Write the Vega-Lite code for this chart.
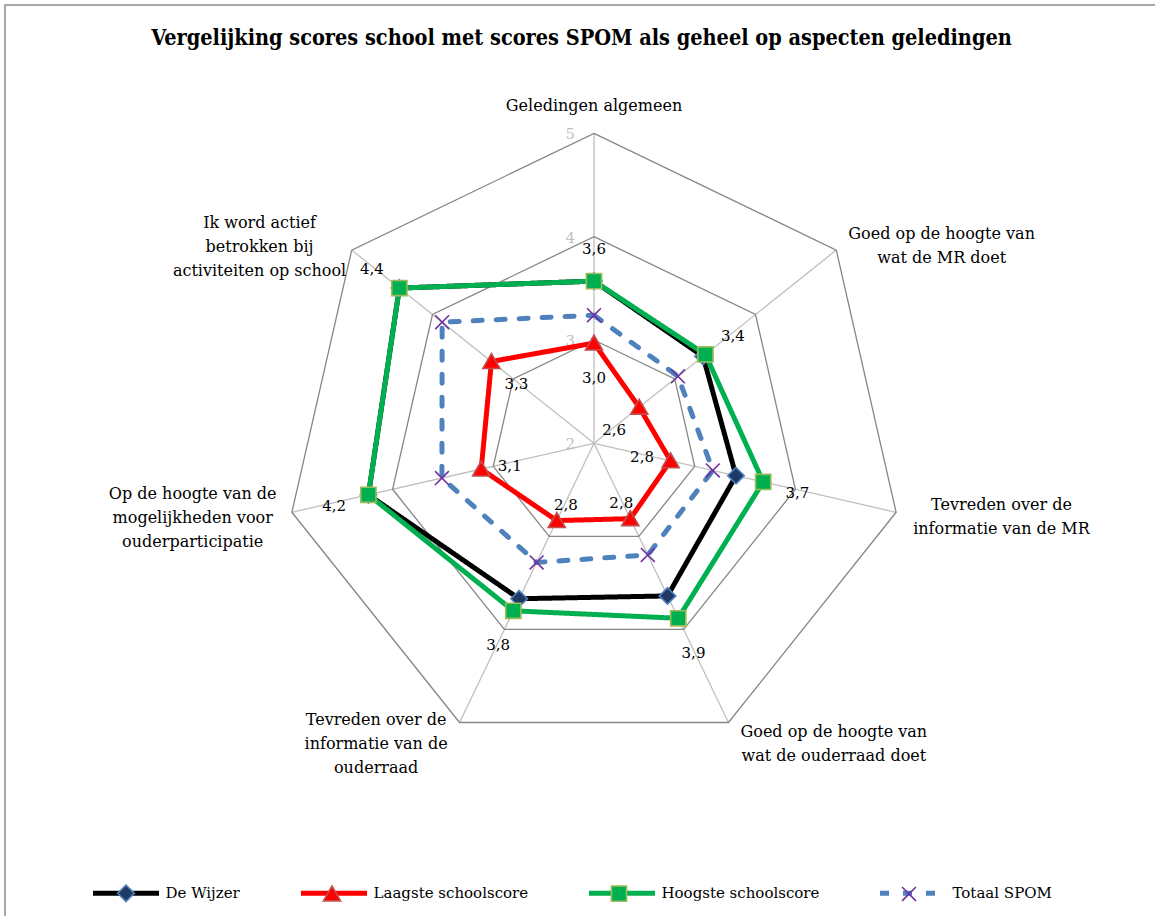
{
  "$schema": "https://vega.github.io/schema/vega-lite/v6.json",
  "width": 1153,
  "height": 914,
  "autosize": {"type": "none"},
  "padding": {"left": 5, "top": 5, "right": -3, "bottom": -3},
  "background": "white",
  "title": {
    "text": "Vergelijking scores school met scores SPOM als geheel op aspecten geledingen",
    "font": "DejaVu Serif Condensed",
    "fontSize": 21.5,
    "fontWeight": "bold",
    "color": "#000000",
    "anchor": "middle",
    "frame": "group",
    "baseline": "alphabetic",
    "offset": -61
  },
  "config": {
    "view": {"stroke": "#8C8C8C", "strokeWidth": 1.5},
    "font": "DejaVu Serif"
  },
  "resolve": {
    "scale": {"shape": "independent", "fill": "independent", "stroke": "independent"},
    "legend": {"shape": "independent", "fill": "independent", "stroke": "independent"}
  },
  "datasets": {
    "aspects": [
      {"aspect": "Geledingen algemeen", "label": "Geledingen algemeen"},
      {"aspect": "Goed op de hoogte van wat de MR doet", "label": "Goed op de hoogte van\nwat de MR doet"},
      {"aspect": "Tevreden over de informatie van de MR", "label": "Tevreden over de\ninformatie van de MR"},
      {"aspect": "Goed op de hoogte van wat de ouderraad doet", "label": "Goed op de hoogte van\nwat de ouderraad doet"},
      {"aspect": "Tevreden over de informatie van de ouderraad", "label": "Tevreden over de\ninformatie van de\nouderraad"},
      {"aspect": "Op de hoogte van de mogelijkheden voor ouderparticipatie", "label": "Op de hoogte van de\nmogelijkheden voor\nouderparticipatie"},
      {"aspect": "Ik word actief betrokken bij activiteiten op school", "label": "Ik word actief\nbetrokken bij\nactiviteiten op school"}
    ],
    "grid": [
      {"ring": 3, "order": 0}, {"ring": 3, "order": 1}, {"ring": 3, "order": 2}, {"ring": 3, "order": 3}, {"ring": 3, "order": 4}, {"ring": 3, "order": 5}, {"ring": 3, "order": 6},
      {"ring": 4, "order": 0}, {"ring": 4, "order": 1}, {"ring": 4, "order": 2}, {"ring": 4, "order": 3}, {"ring": 4, "order": 4}, {"ring": 4, "order": 5}, {"ring": 4, "order": 6},
      {"ring": 5, "order": 0}, {"ring": 5, "order": 1}, {"ring": 5, "order": 2}, {"ring": 5, "order": 3}, {"ring": 5, "order": 4}, {"ring": 5, "order": 5}, {"ring": 5, "order": 6}
    ],
    "ticks": [{"v": 2}, {"v": 3}, {"v": 4}, {"v": 5}],
    "scores": [
      {"series": "De Wijzer", "aspect": "Geledingen algemeen", "value": 3.57},
      {"series": "De Wijzer", "aspect": "Goed op de hoogte van wat de MR doet", "value": 3.35},
      {"series": "De Wijzer", "aspect": "Tevreden over de informatie van de MR", "value": 3.41},
      {"series": "De Wijzer", "aspect": "Goed op de hoogte van wat de ouderraad doet", "value": 3.64},
      {"series": "De Wijzer", "aspect": "Tevreden over de informatie van de ouderraad", "value": 3.67},
      {"series": "De Wijzer", "aspect": "Op de hoogte van de mogelijkheden voor ouderparticipatie", "value": 4.24},
      {"series": "De Wijzer", "aspect": "Ik word actief betrokken bij activiteiten op school", "value": 4.41},
      {"series": "Laagste schoolscore", "aspect": "Geledingen algemeen", "value": 2.97},
      {"series": "Laagste schoolscore", "aspect": "Goed op de hoogte van wat de MR doet", "value": 2.56},
      {"series": "Laagste schoolscore", "aspect": "Tevreden over de informatie van de MR", "value": 2.76},
      {"series": "Laagste schoolscore", "aspect": "Goed op de hoogte van wat de ouderraad doet", "value": 2.81},
      {"series": "Laagste schoolscore", "aspect": "Tevreden over de informatie van de ouderraad", "value": 2.83},
      {"series": "Laagste schoolscore", "aspect": "Op de hoogte van de mogelijkheden voor ouderparticipatie", "value": 3.12},
      {"series": "Laagste schoolscore", "aspect": "Ik word actief betrokken bij activiteiten op school", "value": 3.27},
      {"series": "Hoogste schoolscore", "aspect": "Geledingen algemeen", "value": 3.57},
      {"series": "Hoogste schoolscore", "aspect": "Goed op de hoogte van wat de MR doet", "value": 3.38},
      {"series": "Hoogste schoolscore", "aspect": "Tevreden over de informatie van de MR", "value": 3.68},
      {"series": "Hoogste schoolscore", "aspect": "Goed op de hoogte van wat de ouderraad doet", "value": 3.88},
      {"series": "Hoogste schoolscore", "aspect": "Tevreden over de informatie van de ouderraad", "value": 3.80},
      {"series": "Hoogste schoolscore", "aspect": "Op de hoogte van de mogelijkheden voor ouderparticipatie", "value": 4.24},
      {"series": "Hoogste schoolscore", "aspect": "Ik word actief betrokken bij activiteiten op school", "value": 4.41},
      {"series": "Totaal SPOM", "aspect": "Geledingen algemeen", "value": 3.24},
      {"series": "Totaal SPOM", "aspect": "Goed op de hoogte van wat de MR doet", "value": 3.04},
      {"series": "Totaal SPOM", "aspect": "Tevreden over de informatie van de MR", "value": 3.18},
      {"series": "Totaal SPOM", "aspect": "Goed op de hoogte van wat de ouderraad doet", "value": 3.20},
      {"series": "Totaal SPOM", "aspect": "Tevreden over de informatie van de ouderraad", "value": 3.28},
      {"series": "Totaal SPOM", "aspect": "Op de hoogte van de mogelijkheden voor ouderparticipatie", "value": 3.51},
      {"series": "Totaal SPOM", "aspect": "Ik word actief betrokken bij activiteiten op school", "value": 3.88}
    ]
  },
  "layer": [
    {
      "data": {"name": "aspects"},
      "transform": [
        {"calculate": "indexof(['Geledingen algemeen','Goed op de hoogte van wat de MR doet','Tevreden over de informatie van de MR','Goed op de hoogte van wat de ouderraad doet','Tevreden over de informatie van de ouderraad','Op de hoogte van de mogelijkheden voor ouderparticipatie','Ik word actief betrokken bij activiteiten op school'], datum.aspect) * 2 * PI / 7", "as": "t"},
        {"calculate": "3 * sin(datum.t)", "as": "X"},
        {"calculate": "3 * cos(datum.t)", "as": "Y"}
      ],
      "mark": {"type": "rule", "color": "#BFBFBF", "strokeWidth": 1.3},
      "encoding": {
        "x": {"field": "X", "type": "quantitative", "scale": {"domain": [-5.702, 5.460], "nice": false, "zero": false}, "axis": null},
        "y": {"field": "Y", "type": "quantitative", "scale": {"domain": [-4.605, 4.243], "nice": false, "zero": false}, "axis": null},
        "x2": {"datum": 0},
        "y2": {"datum": 0}
      }
    },
    {
      "data": {"name": "grid"},
      "transform": [
        {"calculate": "datum.order * 2 * PI / 7", "as": "t"},
        {"calculate": "(datum.ring - 2) * sin(datum.t)", "as": "X"},
        {"calculate": "(datum.ring - 2) * cos(datum.t)", "as": "Y"}
      ],
      "mark": {"type": "line", "interpolate": "linear-closed", "color": "#868686", "strokeWidth": 1.3},
      "encoding": {
        "x": {"field": "X", "type": "quantitative", "axis": null},
        "y": {"field": "Y", "type": "quantitative", "axis": null},
        "detail": {"field": "ring", "type": "nominal"},
        "order": {"field": "order", "type": "quantitative"}
      }
    },
    {
      "data": {"name": "ticks"},
      "transform": [{"calculate": "datum.v - 2", "as": "Y"}, {"calculate": "0", "as": "X"}],
      "mark": {"type": "text", "align": "right", "baseline": "middle", "dx": -19, "dy": 1, "color": "#BFBFBF", "fontSize": 15, "font": "DejaVu Serif"},
      "encoding": {
        "x": {"field": "X", "type": "quantitative", "axis": null},
        "y": {"field": "Y", "type": "quantitative", "axis": null},
        "text": {"field": "v", "type": "quantitative"}
      }
    },
    {
      "data": {"name": "aspects"},
      "transform": [
        {"calculate": "indexof(['Geledingen algemeen','Goed op de hoogte van wat de MR doet','Tevreden over de informatie van de MR','Goed op de hoogte van wat de ouderraad doet','Tevreden over de informatie van de ouderraad','Op de hoogte van de mogelijkheden voor ouderparticipatie','Ik word actief betrokken bij activiteiten op school'], datum.aspect) * 2 * PI / 7", "as": "t"},
        {"calculate": "length(split(datum.label, '\\n'))", "as": "n"},
        {"calculate": "3 * sin(datum.t) + (sin(datum.t) > 0.1 ? 1.02 : (sin(datum.t) < -0.1 ? -(0.97 - 0.2 * cos(datum.t) * cos(datum.t)) : 0))", "as": "X"},
        {"calculate": "3 * cos(datum.t) + 0.27 * pow(cos(datum.t), 3) - 0.05 * sin(datum.t) * sin(datum.t) + (datum.n - 1) * 0.116", "as": "Y"}
      ],
      "mark": {"type": "text", "align": "center", "baseline": "middle", "lineBreak": "\n", "lineHeight": 24, "fontSize": 16, "font": "DejaVu Serif", "color": "#000000"},
      "encoding": {
        "x": {"field": "X", "type": "quantitative", "axis": null},
        "y": {"field": "Y", "type": "quantitative", "axis": null},
        "text": {"field": "label", "type": "nominal"}
      }
    },
    {
      "data": {"name": "scores"},
      "transform": [
        {"calculate": "indexof(['Geledingen algemeen','Goed op de hoogte van wat de MR doet','Tevreden over de informatie van de MR','Goed op de hoogte van wat de ouderraad doet','Tevreden over de informatie van de ouderraad','Op de hoogte van de mogelijkheden voor ouderparticipatie','Ik word actief betrokken bij activiteiten op school'], datum.aspect)", "as": "order"},
        {"calculate": "datum.order * 2 * PI / 7", "as": "t"},
        {"calculate": "(datum.value - 2) * sin(datum.t)", "as": "X"},
        {"calculate": "(datum.value - 2) * cos(datum.t)", "as": "Y"}
      ],
      "mark": {"type": "line", "interpolate": "linear-closed", "strokeWidth": 5, "strokeCap": "round"},
      "encoding": {
        "x": {"field": "X", "type": "quantitative", "axis": null},
        "y": {"field": "Y", "type": "quantitative", "axis": null},
        "order": {"field": "order", "type": "quantitative"},
        "color": {
          "field": "series", "type": "nominal",
          "scale": {"domain": ["De Wijzer", "Laagste schoolscore", "Hoogste schoolscore", "Totaal SPOM"], "range": ["#000000", "#FF0000", "#00B050", "#4F81BD"]},
          "legend": {
            "orient": "none", "legendX": 85.5, "legendY": 852.5, "direction": "horizontal", "title": null,
            "padding": 0, "columnPadding": 50, "symbolType": "stroke", "symbolSize": 4356, "symbolStrokeWidth": 5,
            "labelOffset": 4, "labelFont": "DejaVu Serif", "labelFontSize": 15, "labelColor": "#000000", "labelLimit": 300
          }
        },
        "strokeDash": {
          "field": "series", "type": "nominal",
          "scale": {"domain": ["De Wijzer", "Laagste schoolscore", "Hoogste schoolscore", "Totaal SPOM"], "range": [[1, 0], [1, 0], [1, 0], [9, 14]]},
          "legend": {
            "orient": "none", "legendX": 85.5, "legendY": 852.5, "direction": "horizontal", "title": null,
            "padding": 0, "columnPadding": 50, "symbolType": "stroke", "symbolSize": 4356, "symbolStrokeWidth": 5,
            "labelOffset": 4, "labelFont": "DejaVu Serif", "labelFontSize": 15, "labelColor": "#000000", "labelLimit": 300
          }
        }
      }
    },
    {
      "data": {"name": "scores"},
      "transform": [
        {"calculate": "indexof(['Geledingen algemeen','Goed op de hoogte van wat de MR doet','Tevreden over de informatie van de MR','Goed op de hoogte van wat de ouderraad doet','Tevreden over de informatie van de ouderraad','Op de hoogte van de mogelijkheden voor ouderparticipatie','Ik word actief betrokken bij activiteiten op school'], datum.aspect)", "as": "order"},
        {"calculate": "datum.order * 2 * PI / 7", "as": "t"},
        {"calculate": "(datum.value - 2) * sin(datum.t)", "as": "X"},
        {"calculate": "(datum.value - 2) * cos(datum.t)", "as": "Y"}
      ],
      "mark": {"type": "point", "size": 4356, "strokeWidth": 1.6, "opacity": 1, "filled": true},
      "encoding": {
        "x": {"field": "X", "type": "quantitative", "axis": null},
        "y": {"field": "Y", "type": "quantitative", "axis": null},
        "shape": {
          "field": "series", "type": "nominal",
          "scale": {"domain": ["De Wijzer", "Laagste schoolscore", "Hoogste schoolscore", "Totaal SPOM"], "range": [
            "M-1.103,0M1.103,0M0,-0.25L0.25,0L0,0.25L-0.25,0Z",
            "M-1.103,0M1.103,0M0,-0.24L0.26,0.21L-0.26,0.21Z",
            "M-1.103,0M1.103,0M-0.23,-0.23L0.23,-0.23L0.23,0.23L-0.23,0.23Z",
            "M-1.103,0M1.103,0M-0.21,-0.21L0.21,0.21M0.21,-0.21L-0.21,0.21"
          ]},
          "legend": {
            "orient": "none", "legendX": 85.5, "legendY": 854, "direction": "horizontal", "title": null,
            "padding": 0, "columnPadding": 50, "symbolSize": 4356, "symbolStrokeWidth": 1.6, "symbolOffset": 1.5,
            "labelOffset": 7, "labelFont": "DejaVu Serif", "labelFontSize": 15, "labelOpacity": 0, "labelLimit": 300
          }
        },
        "fill": {
          "field": "series", "type": "nominal",
          "scale": {"domain": ["De Wijzer", "Laagste schoolscore", "Hoogste schoolscore", "Totaal SPOM"], "range": ["#1F3864", "#FF0000", "#00B050", "transparent"]},
          "legend": {
            "orient": "none", "legendX": 85.5, "legendY": 854, "direction": "horizontal", "title": null,
            "padding": 0, "columnPadding": 50, "symbolSize": 4356, "symbolStrokeWidth": 1.6, "symbolOffset": 1.5,
            "labelOffset": 7, "labelFont": "DejaVu Serif", "labelFontSize": 15, "labelOpacity": 0, "labelLimit": 300
          }
        },
        "stroke": {
          "field": "series", "type": "nominal",
          "scale": {"domain": ["De Wijzer", "Laagste schoolscore", "Hoogste schoolscore", "Totaal SPOM"], "range": ["#4F81BD", "#C0504D", "#9BBB59", "#7030A0"]},
          "legend": {
            "orient": "none", "legendX": 85.5, "legendY": 854, "direction": "horizontal", "title": null,
            "padding": 0, "columnPadding": 50, "symbolSize": 4356, "symbolStrokeWidth": 1.6, "symbolOffset": 1.5,
            "labelOffset": 7, "labelFont": "DejaVu Serif", "labelFontSize": 15, "labelOpacity": 0, "labelLimit": 300
          }
        }
      }
    },
    {
      "data": {"name": "scores"},
      "transform": [
        {"filter": "datum.series === 'Laagste schoolscore' || datum.series === 'Hoogste schoolscore'"},
        {"calculate": "indexof(['Geledingen algemeen','Goed op de hoogte van wat de MR doet','Tevreden over de informatie van de MR','Goed op de hoogte van wat de ouderraad doet','Tevreden over de informatie van de ouderraad','Op de hoogte van de mogelijkheden voor ouderparticipatie','Ik word actief betrokken bij activiteiten op school'], datum.aspect) * 2 * PI / 7", "as": "t"},
        {"calculate": "datum.value - 2 + (datum.series === 'Hoogste schoolscore' ? 0.34 : (-0.31 + 0.12 * max(0, -cos(datum.t))))", "as": "R"},
        {"calculate": "datum.R * sin(datum.t)", "as": "X"},
        {"calculate": "datum.R * cos(datum.t)", "as": "Y"},
        {"calculate": "replace(format(datum.value, '.1f'), '.', ',')", "as": "lbl"}
      ],
      "mark": {"type": "text", "align": "center", "baseline": "middle", "dy": 3, "fontSize": 15, "font": "DejaVu Serif", "color": "#000000"},
      "encoding": {
        "x": {"field": "X", "type": "quantitative", "axis": null},
        "y": {"field": "Y", "type": "quantitative", "axis": null},
        "text": {"field": "lbl", "type": "nominal"}
      }
    }
  ]
}
